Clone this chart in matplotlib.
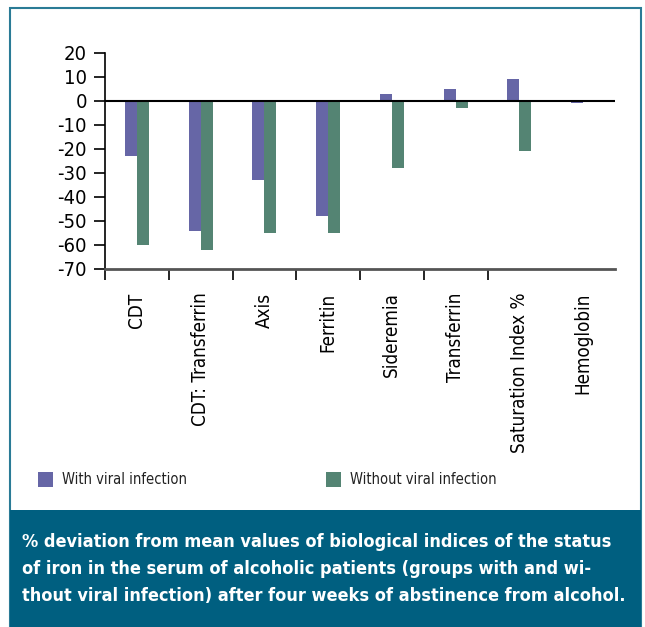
import numpy as np
import matplotlib.pyplot as plt
from matplotlib.patches import Rectangle

plt.rcParams['font.family'] = ['DejaVu Sans']
plt.rcParams['font.stretch'] = 'condensed'

categories = ['CDT', 'CDT: Transferrin', 'Axis', 'Ferritin', 'Sideremia',
              'Transferrin', 'Saturation Index %', 'Hemoglobin']
with_viral = [-23, -54, -33, -48, 3, 5, 9, -1]
without_viral = [-60, -62, -55, -55, -28, -3, -21, 0]
yticks = [20, 10, 0, -10, -20, -30, -40, -50, -60, -70]
series_names = ['With viral infection', 'Without viral infection']
caption = ('% deviation from mean values of biological indices of the status\n'
           'of iron in the serum of alcoholic patients (groups with and wi-\n'
           'thout viral infection) after four weeks of abstinence from alcohol.')

purple = '#6666a6'
green = '#548473'
teal = '#005f80'

W, H = 645, 627
fig = plt.figure(figsize=(W / 100, H / 100), dpi=100)

# outer frame and caption band
fig.add_artist(Rectangle((10 / W, 0), 631 / W, 1 - 8 / H, transform=fig.transFigure,
                         facecolor='white', edgecolor='#2a7b96', lw=1.5, zorder=0))
fig.add_artist(Rectangle((10 / W, 0), 631 / W, (H - 510) / H, transform=fig.transFigure,
                         facecolor=teal, edgecolor='none', zorder=1))
fig.text(22 / W, 1 - 533 / H, caption, color='white', fontsize=13, fontweight='bold',
         va='top', ha='left', linespacing=1.63, zorder=2)

ax = fig.add_axes([105 / W, 1 - 269 / H, 510 / W, 216 / H])
ax.set_facecolor('none')
x = np.arange(len(categories))
bw = 0.19
ax.bar(x - bw / 2, with_viral, bw, color=purple, zorder=2)
ax.bar(x + bw / 2, without_viral, bw, color=green, zorder=2)
ax.axhline(0, color='black', lw=1.5, zorder=3)

ax.set_xlim(-0.5, len(categories) - 0.5)
ax.set_ylim(-70, 20)
ax.set_yticks(yticks)
ax.set_yticklabels([str(v) for v in yticks], fontsize=14.5)
ax.tick_params(axis='y', direction='out', length=8, width=1.2, pad=5)

ax.set_xticks(x)
ax.set_xticklabels(categories, rotation=90, fontsize=13.5, va='top')
ax.tick_params(axis='x', which='major', length=0, pad=17)
ax.set_xticks(np.arange(len(categories) - 1) - 0.5, minor=True)
ax.tick_params(axis='x', which='minor', direction='out', length=8, width=1.2)

for s in ['top', 'right']:
    ax.spines[s].set_visible(False)
ax.spines['left'].set_linewidth(1.2)
ax.spines['bottom'].set_color('#555555')
ax.spines['bottom'].set_linewidth(2)

# legend
for (lx, tx), name, c in zip([(38, 62), (326, 350)], series_names, [purple, green]):
    fig.add_artist(Rectangle((lx / W, 1 - 487 / H), 15 / W, 15 / H, transform=fig.transFigure,
                             facecolor=c, edgecolor='none', zorder=2))
    fig.text(tx / W, 1 - 479 / H, name, fontsize=10.5, va='center', ha='left', color='#222222')

fig.savefig('out.png', dpi=100)
